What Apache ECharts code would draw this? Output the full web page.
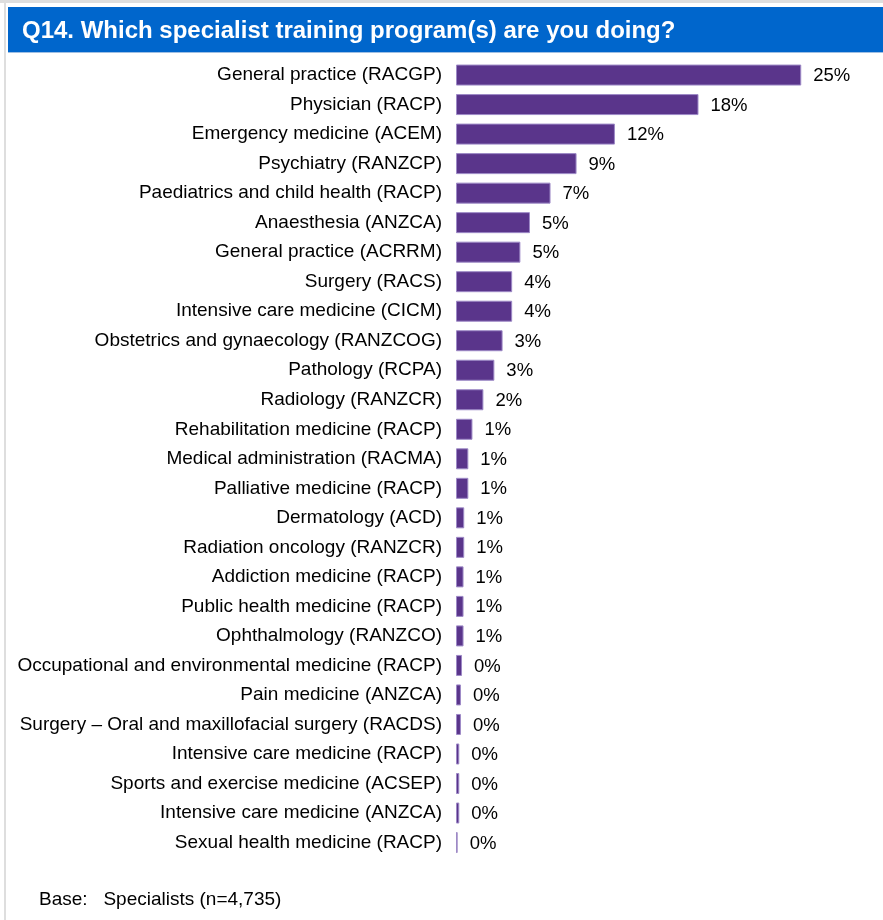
<!DOCTYPE html>
<html>
<head>
<meta charset="utf-8">
<script src="https://cdn.jsdelivr.net/npm/echarts@6/dist/echarts.min.js"></script>
<style>
html,body{margin:0;padding:0;background:#fff;}
#chart{width:883px;height:920px;}
</style>
</head>
<body>
<div id="chart"></div>
<script>
const titleText = 'Q14. Which specialist training program(s) are you doing?';
const baseText = 'Base:   Specialists (n=4,735)';
const categories = [
  'General practice (RACGP)',
  'Physician (RACP)',
  'Emergency medicine (ACEM)',
  'Psychiatry (RANZCP)',
  'Paediatrics and child health (RACP)',
  'Anaesthesia (ANZCA)',
  'General practice (ACRRM)',
  'Surgery (RACS)',
  'Intensive care medicine (CICM)',
  'Obstetrics and gynaecology (RANZCOG)',
  'Pathology (RCPA)',
  'Radiology (RANZCR)',
  'Rehabilitation medicine (RACP)',
  'Medical administration (RACMA)',
  'Palliative medicine (RACP)',
  'Dermatology (ACD)',
  'Radiation oncology (RANZCR)',
  'Addiction medicine (RACP)',
  'Public health medicine (RACP)',
  'Ophthalmology (RANZCO)',
  'Occupational and environmental medicine (RACP)',
  'Pain medicine (ANZCA)',
  'Surgery \u2013 Oral and maxillofacial surgery (RACDS)',
  'Intensive care medicine (RACP)',
  'Sports and exercise medicine (ACSEP)',
  'Intensive care medicine (ANZCA)',
  'Sexual health medicine (RACP)'
];
const values = [25.2, 17.7, 11.6, 8.8, 6.9, 5.4, 4.7, 4.1, 4.1, 3.4, 2.8, 2.0, 1.2, 0.9, 0.9, 0.6, 0.6, 0.55, 0.55, 0.55, 0.44, 0.36, 0.36, 0.24, 0.24, 0.24, 0.12];

const chart = echarts.init(document.getElementById('chart'), null, {renderer: 'canvas'});
const FONT = '"Liberation Sans", Arial, sans-serif';
chart.setOption({
  animation: false,
  backgroundColor: '#ffffff',
  textStyle: {fontFamily: FONT},
  graphic: [
    {type: 'rect', shape: {x: 0, y: 0, width: 883, height: 3}, style: {fill: '#dedede'}, silent: true},
    {type: 'rect', shape: {x: 4, y: 0, width: 2, height: 920}, style: {fill: '#dedede'}, silent: true},
    {type: 'rect', shape: {x: 8, y: 7, width: 875, height: 45}, style: {fill: '#0066cc'}, silent: true},
    {type: 'rect', shape: {x: 8, y: 52, width: 875, height: 1}, style: {fill: '#9fbfe3'}, silent: true},
    {type: 'text', x: 22, y: 31, style: {text: titleText, fill: '#ffffff', font: 'bold 24px ' + FONT, textVerticalAlign: 'middle', textAlign: 'left'}, silent: true},
    {type: 'text', x: 39, y: 900, style: {text: baseText, fill: '#000000', font: '19px ' + FONT, textVerticalAlign: 'middle', textAlign: 'left'}, silent: true}
  ],
  grid: {left: 456, right: 16, top: 60.3, bottom: 62.7, containLabel: false},
  xAxis: {
    type: 'value', min: 0, max: 30, interval: 5,
    show: false
  },
  yAxis: {
    type: 'category', data: categories, inverse: true,
    axisLine: {show: false}, axisTick: {show: false}, splitLine: {show: false},
    axisLabel: {fontSize: 19, color: '#000000', margin: 14, fontFamily: FONT}
  },
  series: [{
    type: 'bar',
    data: values,
    barWidth: 21,
    itemStyle: {color: '#5a358b', borderColor: '#9d89c6', borderWidth: 1},
    label: {
      show: true, position: 'right', distance: 12,
      fontSize: 18.5, color: '#000000', fontFamily: FONT,
      offset: [0, 1],
      formatter: p => Math.round(p.value) + '%'
    }
  }]
});
</script>
</body>
</html>
